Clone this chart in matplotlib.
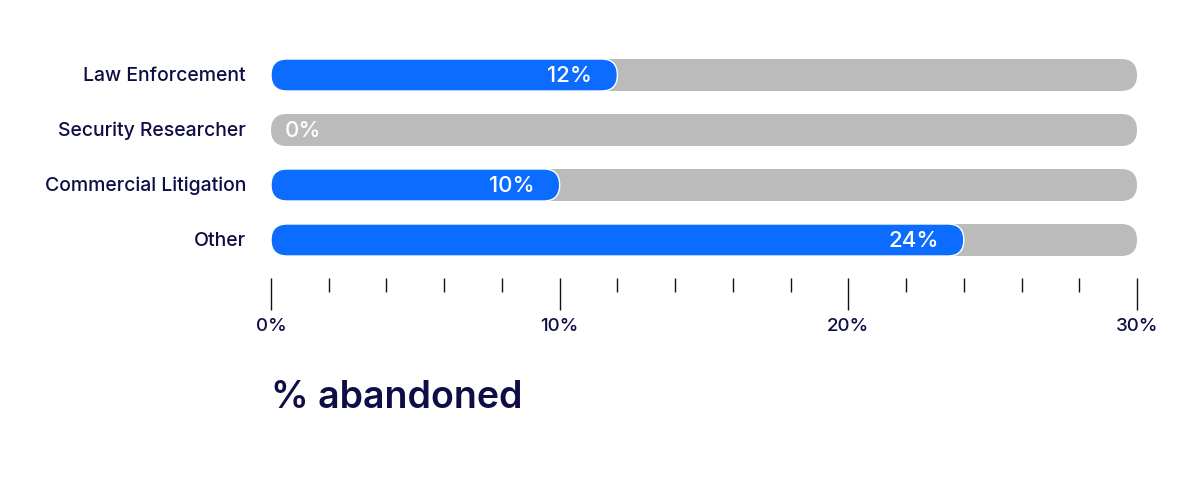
import matplotlib
matplotlib.use("Agg")
import matplotlib.pyplot as plt
from matplotlib.patches import FancyBboxPatch
from matplotlib.ticker import MultipleLocator, FuncFormatter

categories = ["Law Enforcement", "Security Researcher", "Commercial Litigation", "Other"]
values = [12, 0, 10, 24]
x_max = 30
major_ticks = [0, 10, 20, 30]
axis_title = "% abandoned"

BLUE = "#0B6CFF"
GRAY = "#BBBBBB"
NAVY = "#0E0D45"
FONT = ["Inter", "DejaVu Sans"]

W, H = 1200, 482
fig = plt.figure(figsize=(W / 100, H / 100), dpi=100)
left_px, right_px, top_px, bottom_px = 271, 1137, 40, 278
ax = fig.add_axes([left_px / W, 1 - bottom_px / H, (right_px - left_px) / W, (bottom_px - top_px) / H])

row_px = 55.0
bar_px = 32.0
ax_h_px = bottom_px - top_px
ylim_bottom = 3 + 38.0 / row_px
ylim_top = ylim_bottom - ax_h_px / row_px
ax.set_xlim(0, x_max)
ax.set_ylim(ylim_bottom, ylim_top)

x_per_px = x_max / (right_px - left_px)
y_per_px = 1.0 / row_px
aspect = y_per_px / x_per_px
bar_h = bar_px * y_per_px
radius = (bar_px / 2) * x_per_px

for i, (cat, v) in enumerate(zip(categories, values)):
    y0 = i - bar_h / 2
    bg = FancyBboxPatch((0, y0), x_max, bar_h,
                        boxstyle=f"round,pad=0,rounding_size={radius}",
                        mutation_aspect=aspect, facecolor=GRAY, edgecolor="none", zorder=1)
    ax.add_patch(bg)
    if v > 0:
        fg = FancyBboxPatch((0, y0), v, bar_h,
                            boxstyle=f"round,pad=0,rounding_size={radius}",
                            mutation_aspect=aspect, facecolor=BLUE, edgecolor="white",
                            linewidth=1.0, zorder=2)
        ax.add_patch(fg)
        ax.text(v - 25 * x_per_px, i + 0.02, f"{v}%", ha="right", va="center", color="white",
                fontsize=16, family=FONT, fontweight="medium", zorder=3)
    else:
        ax.text(14 * x_per_px, i + 0.02, f"{v}%", ha="left", va="center", color="white",
                fontsize=16, family=FONT, fontweight="medium", zorder=3)
    ax.text(-25 * x_per_px, i + 0.02, cat, ha="right", va="center", color=NAVY,
            fontsize=14, family=FONT, fontweight="medium")

for s in ax.spines.values():
    s.set_visible(False)
ax.set_yticks([])
ax.xaxis.set_major_locator(MultipleLocator(10))
ax.xaxis.set_minor_locator(MultipleLocator(2))
ax.xaxis.set_major_formatter(FuncFormatter(lambda x, p: f"{int(round(x))}%"))
ax.tick_params(axis="x", which="major", direction="out", length=23, width=1.0,
               color="#111111", pad=6, labelsize=13.5, labelcolor=NAVY)
ax.tick_params(axis="x", which="minor", direction="out", length=10, width=1.0, color="#111111")
for lab in ax.get_xticklabels():
    lab.set_family(FONT)
    lab.set_fontweight("medium")

fig.text(left_px / W, 1 - 398 / H, axis_title, ha="left", va="center", color=NAVY,
         fontsize=27, family=FONT, fontweight="semibold")

fig.savefig("out.png", dpi=100, facecolor="white")
